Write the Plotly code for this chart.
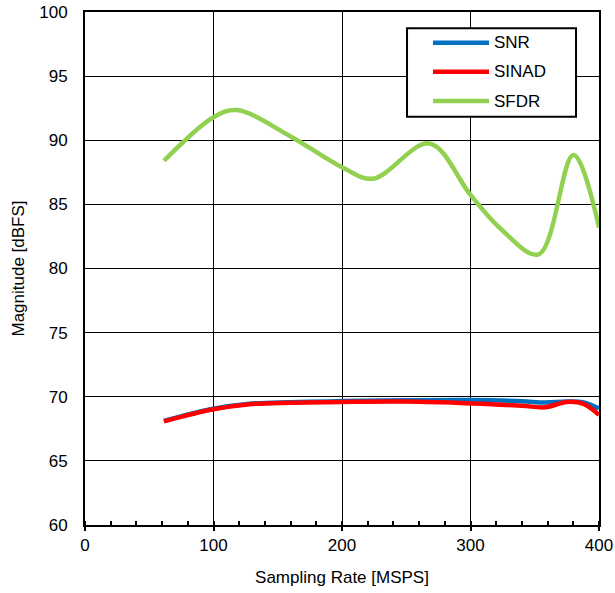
import plotly.graph_objects as go

# Sampling rate [MSPS] and magnitudes [dBFS]
snr_x = [61.44, 100, 128, 160, 200, 250, 300, 340, 358, 375, 388, 400]
snr_y = [68.12, 69.06, 69.45, 69.58, 69.66, 69.72, 69.74, 69.65, 69.55, 69.62, 69.55, 69.08]

sinad_x = [61.44, 100, 128, 160, 200, 250, 300, 340, 358, 375, 388, 400]
sinad_y = [68.08, 69.02, 69.42, 69.54, 69.6, 69.62, 69.48, 69.3, 69.18, 69.6, 69.45, 68.58]

sfdr_x = [61.44, 100, 118, 160, 200, 224, 268, 300, 323, 353, 380, 400]
sfdr_y = [88.4, 91.8, 92.35, 90.3, 87.9, 87.0, 89.75, 85.74, 83.14, 81.1, 88.85, 83.2]

names = ["SNR", "SINAD", "SFDR"]
colors = ["#0070C0", "#FF0000", "#92D050"]
xs_all = [snr_x, sinad_x, sfdr_x]
ys_all = [snr_y, sinad_y, sfdr_y]

x_ticks = [0, 100, 200, 300, 400]
y_ticks = [60, 65, 70, 75, 80, 85, 90, 95, 100]

FAM = "Liberation Sans, Arial, sans-serif"
font = dict(family=FAM, size=17, color="black")

fig = go.Figure()
for name, xs, ys, col in zip(names, xs_all, ys_all, colors):
    fig.add_trace(go.Scatter(
        x=xs, y=ys, mode="lines", name=name, showlegend=False,
        line=dict(color=col, width=4.5, shape="spline", smoothing=1.0),
    ))

# legend drawn as a boxed key in paper coordinates
shapes = [dict(type="rect", xref="paper", yref="paper", x0=0.6265, x1=0.9553,
               y0=0.7959, y1=0.9682, line=dict(color="black", width=2), fillcolor="white",
               layer="above")]
annotations = []
row_y = [0.9401, 0.8836, 0.8265]
for name, col, ry in zip(names, colors, row_y):
    shapes.append(dict(type="line", xref="paper", yref="paper", x0=0.677, x1=0.786,
                       y0=ry, y1=ry, line=dict(color=col, width=4.5), layer="above"))
    annotations.append(dict(xref="paper", yref="paper", x=0.7918, y=ry, text=name,
                            showarrow=False, xanchor="left", yanchor="middle",
                            font=dict(family=FAM, size=17, color="black")))

fig.update_layout(
    width=615, height=593,
    margin=dict(l=85, r=16, t=12, b=68),
    paper_bgcolor="white", plot_bgcolor="white",
    font=font,
    shapes=shapes, annotations=annotations,
    xaxis=dict(
        range=[0, 400], tickvals=x_ticks, ticktext=[str(v) for v in x_ticks],
        showgrid=True, gridcolor="black", gridwidth=1,
        showline=True, linecolor="black", linewidth=2, mirror=True,
        ticks="outside", ticklen=4, tickwidth=2, tickcolor="black",
        minor=dict(dtick=20, ticks="inside", ticklen=4, tickwidth=2, tickcolor="black", showgrid=False),
        zeroline=False, automargin=False,
        title=dict(text="Sampling Rate [MSPS]", font=font, standoff=17),
        tickfont=font,
    ),
    yaxis=dict(
        range=[60, 100], tickvals=y_ticks, ticktext=[str(v) for v in y_ticks],
        showgrid=True, gridcolor="black", gridwidth=1,
        showline=True, linecolor="black", linewidth=2, mirror=True,
        ticks="", zeroline=False, automargin=False, ticklabelstandoff=12,
        title=dict(text="Magnitude [dBFS]", font=font, standoff=10),
        tickfont=font,
    ),
)

fig.write_html("out.html")
